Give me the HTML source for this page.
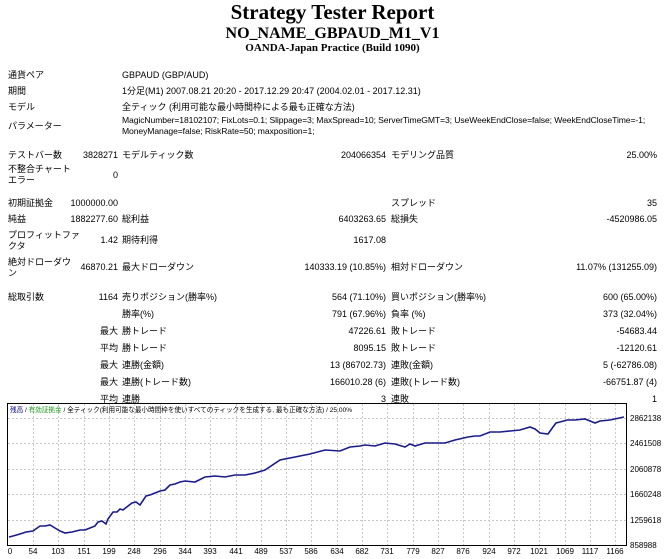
<!DOCTYPE html>
<html><head><meta charset="utf-8"><style>
body{margin:0;width:665px;height:559px;background:#fff;position:relative;overflow:hidden;font-family:"Liberation Sans","Noto Sans CJK JP",sans-serif;font-size:9px;color:#000}
.t{position:absolute;white-space:nowrap;line-height:11px}
.r{text-align:right}
.h{position:absolute;left:0;width:665px;text-align:center;font-family:"Liberation Serif",serif;font-weight:bold}
.x{position:absolute;top:546px;font-size:8px;line-height:11px;width:30px;margin-left:-15px;text-align:center}
</style></head><body>
<div class="h" style="top:0;font-size:21px;line-height:24px">Strategy Tester Report</div>
<div class="h" style="top:24px;font-size:16px;line-height:19px">NO_NAME_GBPAUD_M1_V1</div>
<div class="h" style="top:42px;font-size:11px;line-height:12px">OANDA-Japan Practice (Build 1090)</div>

<div class="t" style="left:8px;top:70px">通貨ペア</div><div class="t" style="left:122px;top:70px">GBPAUD (GBP/AUD)</div>
<div class="t" style="left:8px;top:86px">期間</div><div class="t" style="left:122px;top:86px">1分足(M1) 2007.08.21 20:20 - 2017.12.29 20:47 (2004.02.01 - 2017.12.31)</div>
<div class="t" style="left:8px;top:102px">モデル</div><div class="t" style="left:122px;top:102px">全ティック (利用可能な最小時間枠による最も正確な方法)</div>
<div class="t" style="left:8px;top:121px">パラメーター</div>
<div class="t" style="left:122px;top:115px;font-size:8.6px;letter-spacing:-0.1px">MagicNumber=18102107; FixLots=0.1; Slippage=3; MaxSpread=10; ServerTimeGMT=3; UseWeekEndClose=false; WeekEndCloseTime=-1;<br>MoneyManage=false; RiskRate=50; maxposition=1;</div>

<div class="t" style="left:8px;top:150px">テストバー数</div><div class="t r" style="right:547px;top:150px">3828271</div>
<div class="t" style="left:122px;top:150px">モデルティック数</div><div class="t r" style="right:279px;top:150px">204066354</div>
<div class="t" style="left:391px;top:150px">モデリング品質</div><div class="t r" style="right:8px;top:150px">25.00%</div>
<div class="t" style="left:8px;top:164px">不整合チャート<br>エラー</div><div class="t r" style="right:547px;top:170px">0</div>

<div class="t" style="left:8px;top:198px">初期証拠金</div><div class="t r" style="right:547px;top:198px">1000000.00</div>
<div class="t" style="left:391px;top:198px">スプレッド</div><div class="t r" style="right:8px;top:198px">35</div>
<div class="t" style="left:8px;top:214px">純益</div><div class="t r" style="right:547px;top:214px">1882277.60</div>
<div class="t" style="left:122px;top:214px">総利益</div><div class="t r" style="right:279px;top:214px">6403263.65</div>
<div class="t" style="left:391px;top:214px">総損失</div><div class="t r" style="right:8px;top:214px">-4520986.05</div>
<div class="t" style="left:8px;top:230px">プロフィットファ<br>クタ</div><div class="t r" style="right:547px;top:235px">1.42</div>
<div class="t" style="left:122px;top:235px">期待利得</div><div class="t r" style="right:279px;top:235px">1617.08</div>
<div class="t" style="left:8px;top:257px">絶対ドローダウ<br>ン</div><div class="t r" style="right:547px;top:262px">46870.21</div>
<div class="t" style="left:122px;top:262px">最大ドローダウン</div><div class="t r" style="right:279px;top:262px">140333.19 (10.85%)</div>
<div class="t" style="left:391px;top:262px">相対ドローダウン</div><div class="t r" style="right:8px;top:262px">11.07% (131255.09)</div>

<div class="t" style="left:8px;top:292px">総取引数</div><div class="t r" style="right:547px;top:292px">1164</div>
<div class="t" style="left:122px;top:292px">売りポジション(勝率%)</div><div class="t r" style="right:279px;top:292px">564 (71.10%)</div>
<div class="t" style="left:391px;top:292px">買いポジション(勝率%)</div><div class="t r" style="right:8px;top:292px">600 (65.00%)</div>
<div class="t" style="left:122px;top:309px">勝率(%)</div><div class="t r" style="right:279px;top:309px">791 (67.96%)</div>
<div class="t" style="left:391px;top:309px">負率 (%)</div><div class="t r" style="right:8px;top:309px">373 (32.04%)</div>
<div class="t r" style="right:547px;top:326px">最大</div><div class="t" style="left:122px;top:326px">勝トレード</div><div class="t r" style="right:279px;top:326px">47226.61</div>
<div class="t" style="left:391px;top:326px">敗トレード</div><div class="t r" style="right:8px;top:326px">-54683.44</div>
<div class="t r" style="right:547px;top:343px">平均</div><div class="t" style="left:122px;top:343px">勝トレード</div><div class="t r" style="right:279px;top:343px">8095.15</div>
<div class="t" style="left:391px;top:343px">敗トレード</div><div class="t r" style="right:8px;top:343px">-12120.61</div>
<div class="t r" style="right:547px;top:360px">最大</div><div class="t" style="left:122px;top:360px">連勝(金額)</div><div class="t r" style="right:279px;top:360px">13 (86702.73)</div>
<div class="t" style="left:391px;top:360px">連敗(金額)</div><div class="t r" style="right:8px;top:360px">5 (-62786.08)</div>
<div class="t r" style="right:547px;top:377px">最大</div><div class="t" style="left:122px;top:377px">連勝(トレード数)</div><div class="t r" style="right:279px;top:377px">166010.28 (6)</div>
<div class="t" style="left:391px;top:377px">連敗(トレード数)</div><div class="t r" style="right:8px;top:377px">-66751.87 (4)</div>
<div class="t r" style="right:547px;top:394px">平均</div><div class="t" style="left:122px;top:394px">連勝</div><div class="t r" style="right:279px;top:394px">3</div>
<div class="t" style="left:391px;top:394px">連敗</div><div class="t r" style="right:8px;top:394px">1</div>

<svg style="position:absolute;left:0;top:0" width="665" height="559">
<rect x="7.5" y="403.5" width="619" height="142" fill="#fff" stroke="#000"/>
<g stroke="#c8c8c8" stroke-dasharray="2,2">
<line x1="8" x2="626" y1="418.5" y2="418.5"/><line x1="8" x2="626" y1="443.5" y2="443.5"/><line x1="8" x2="626" y1="469.5" y2="469.5"/><line x1="8" x2="626" y1="494.5" y2="494.5"/><line x1="8" x2="626" y1="520.5" y2="520.5"/>
<line x1="33.5" x2="33.5" y1="404" y2="545"/><line x1="58.5" x2="58.5" y1="404" y2="545"/><line x1="84.5" x2="84.5" y1="404" y2="545"/><line x1="109.5" x2="109.5" y1="404" y2="545"/><line x1="134.5" x2="134.5" y1="404" y2="545"/><line x1="160.5" x2="160.5" y1="404" y2="545"/><line x1="185.5" x2="185.5" y1="404" y2="545"/><line x1="210.5" x2="210.5" y1="404" y2="545"/><line x1="236.5" x2="236.5" y1="404" y2="545"/><line x1="261.5" x2="261.5" y1="404" y2="545"/><line x1="286.5" x2="286.5" y1="404" y2="545"/><line x1="311.5" x2="311.5" y1="404" y2="545"/><line x1="337.5" x2="337.5" y1="404" y2="545"/><line x1="362.5" x2="362.5" y1="404" y2="545"/><line x1="387.5" x2="387.5" y1="404" y2="545"/><line x1="413.5" x2="413.5" y1="404" y2="545"/><line x1="438.5" x2="438.5" y1="404" y2="545"/><line x1="463.5" x2="463.5" y1="404" y2="545"/><line x1="489.5" x2="489.5" y1="404" y2="545"/><line x1="514.5" x2="514.5" y1="404" y2="545"/><line x1="539.5" x2="539.5" y1="404" y2="545"/><line x1="565.5" x2="565.5" y1="404" y2="545"/><line x1="590.5" x2="590.5" y1="404" y2="545"/><line x1="615.5" x2="615.5" y1="404" y2="545"/>
</g>
<polyline fill="none" stroke="#1a1a8c" stroke-width="1.6" points="9,537 13,536 20,534 26,532 33,531 40,526 45,526 50,525 55,528 60,531 65,533 72,532 80,530 85,530 90,528 95,526 98,522 102,521 106,524 108,519 113,512 117,512 120,509 123,510 128,506 132,503 136,502 140,505 146,496 150,495 155,493 160,491 165,490 170,485 175,484 180,482 185,481 195,482 205,477 215,476 225,477 235,475 245,475 255,473 265,470 280,460 295,457 310,454 325,450 340,451 350,447 360,446 365,445 375,446 385,443 395,444 405,447 410,444 415,446 425,443 445,443 455,440 468,437 475,436 480,436 490,432 500,432 510,431 520,430 530,427 535,429 540,433 548,434 553,427 556,423 560,422 567,420 575,420 585,419 590,421 595,423 600,421 610,420 624,417"/>
</svg>
<div class="t" style="left:10px;top:405px;font-size:6.6px;color:#000"><span style="color:#00008b">残高</span> / <span style="color:#1a9a1a">有効証拠金</span> / 全ティック(利用可能な最小時間枠を使いすべてのティックを生成する, 最も正確な方法) / 25.00%</div>
<div class="t" style="left:630px;top:413px;font-size:8px">2862138</div>
<div class="t" style="left:630px;top:438px;font-size:8px">2461508</div>
<div class="t" style="left:630px;top:464px;font-size:8px">2060878</div>
<div class="t" style="left:630px;top:489px;font-size:8px">1660248</div>
<div class="t" style="left:630px;top:515px;font-size:8px">1259618</div>
<div class="t" style="left:630px;top:540px;font-size:8px">858988</div>
<div class="x" style="left:10px">0</div><div class="x" style="left:33px">54</div><div class="x" style="left:58px">103</div><div class="x" style="left:84px">151</div><div class="x" style="left:109px">199</div><div class="x" style="left:134px">248</div><div class="x" style="left:160px">296</div><div class="x" style="left:185px">344</div><div class="x" style="left:210px">393</div><div class="x" style="left:236px">441</div><div class="x" style="left:261px">489</div><div class="x" style="left:286px">537</div><div class="x" style="left:311px">586</div><div class="x" style="left:337px">634</div><div class="x" style="left:362px">682</div><div class="x" style="left:387px">731</div><div class="x" style="left:413px">779</div><div class="x" style="left:438px">827</div><div class="x" style="left:463px">876</div><div class="x" style="left:489px">924</div><div class="x" style="left:514px">972</div><div class="x" style="left:539px">1021</div><div class="x" style="left:565px">1069</div><div class="x" style="left:590px">1117</div><div class="x" style="left:615px">1166</div>
</body></html>
